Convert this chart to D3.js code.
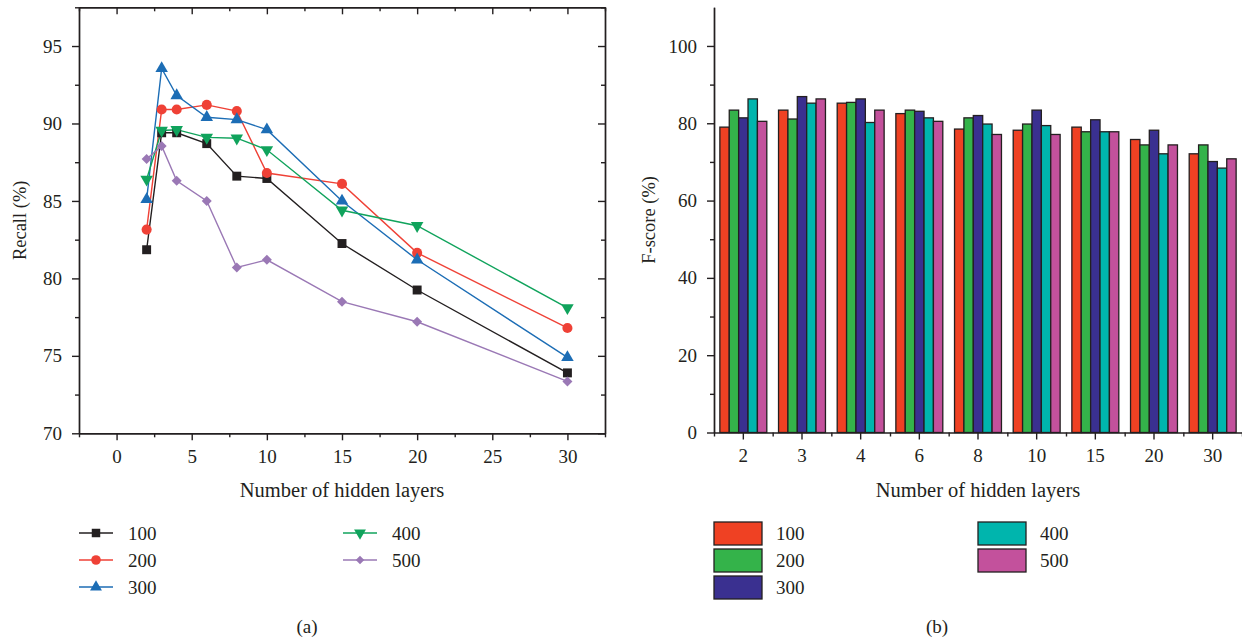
<!DOCTYPE html>
<html>
<head>
<meta charset="utf-8">
<script src="https://cdn.jsdelivr.net/npm/d3@7/dist/d3.min.js"></script>
<style>
  html, body { margin: 0; padding: 0; background: #fff; }
  svg { display: block; }
  text { font-family: "Liberation Serif", "DejaVu Serif", serif; fill: #231f20; }
</style>
</head>
<body>
<svg id="chart" width="1242" height="641"></svg>
<script>
// ---------- DATA ----------
const hiddenLayers = [2, 3, 4, 6, 8, 10, 15, 20, 30];
const seriesNames = ["100", "200", "300", "400", "500"];

// (a) Recall (%)
const recall100 = [81.85, 89.4, 89.4, 88.7, 86.6, 86.45, 82.25, 79.25, 73.9];
const recall200 = [83.15, 90.9, 90.9, 91.2, 90.8, 86.8, 86.1, 81.65, 76.8];
const recall300 = [85.1, 93.55, 91.8, 90.4, 90.25, 89.6, 85.0, 81.2, 74.9];
const recall400 = [86.4, 89.55, 89.6, 89.1, 89.05, 88.3, 84.4, 83.4, 78.1];
const recall500 = [87.7, 88.55, 86.3, 85.0, 80.7, 81.2, 78.5, 77.2, 73.35];

// (b) F-score (%)
const fscore100 = [79.0, 83.4, 85.2, 82.5, 78.5, 78.2, 79.0, 75.8, 72.1];
const fscore200 = [83.4, 81.1, 85.4, 83.4, 81.4, 79.8, 77.8, 74.4, 74.4];
const fscore300 = [81.4, 86.9, 86.3, 83.1, 82.0, 83.4, 80.9, 78.2, 70.1];
const fscore400 = [86.3, 85.2, 80.2, 81.4, 79.8, 79.4, 77.8, 72.1, 68.4];
const fscore500 = [80.5, 86.3, 83.4, 80.5, 77.1, 77.1, 77.8, 74.4, 70.8];

const recallXTicks = [0, 5, 10, 15, 20, 25, 30];
const recallYTicks = [70, 75, 80, 85, 90, 95];
const fscoreYTicks = [0, 20, 40, 60, 80, 100];

// ---------- STYLE ----------
const ink = "#231f20";
const lineColors = ["#231f20", "#ef4136", "#1c6db5", "#10a35c", "#9a78b5"];
const barColors  = ["#ef4123", "#34b34a", "#3a3090", "#00b5ad", "#c3519c"];
const FS = 19;       // tick & legend labels
const FS_X = 20.5;   // x-axis titles
const FS_Y = 18.5;   // y-axis titles

const svg = d3.select("#chart");

// ================= (a) LINE CHART =================
const A = { left: 79, right: 605, top: 7.3, bottom: 433.3 };
const xA = d3.scaleLinear().domain([-2.5, 32.5]).range([A.left, A.right]);
const yA = d3.scaleLinear().domain([70, 97.5]).range([A.bottom, A.top]);

const gA = svg.append("g");

function styleAxis(g, labels) {
  g.select(".domain").attr("stroke", ink).attr("stroke-width", 1.4);
  g.selectAll(".tick line").attr("stroke", ink).attr("stroke-width", 1.4);
  g.selectAll(".tick text").style("font-size", FS + "px").attr("fill", ink)
    .style("font-family", "'Liberation Serif', serif");
  if (!labels) g.selectAll(".tick text").remove();
}

const xMinorA = d3.range(-2.5, 32.6, 2.5).filter(v => !recallXTicks.includes(v));
const yMinorA = d3.range(72.5, 97.6, 5);

// bottom
gA.append("g").attr("transform", `translate(0,${A.bottom})`)
  .call(d3.axisBottom(xA).tickValues(xMinorA).tickSize(4).tickSizeOuter(0).tickFormat(""))
  .call(g => styleAxis(g, false));
gA.append("g").attr("transform", `translate(0,${A.bottom})`)
  .call(d3.axisBottom(xA).tickValues(recallXTicks).tickSize(7).tickSizeOuter(0).tickPadding(9))
  .call(g => styleAxis(g, true));
// top (inward)
gA.append("g").attr("transform", `translate(0,${A.top})`)
  .call(d3.axisTop(xA).tickValues(xMinorA).tickSize(-4).tickSizeOuter(0).tickFormat(""))
  .call(g => styleAxis(g, false));
gA.append("g").attr("transform", `translate(0,${A.top})`)
  .call(d3.axisTop(xA).tickValues(recallXTicks).tickSize(-7).tickSizeOuter(0).tickFormat(""))
  .call(g => styleAxis(g, false));
// left
gA.append("g").attr("transform", `translate(${A.left},0)`)
  .call(d3.axisLeft(yA).tickValues(yMinorA).tickSize(4).tickSizeOuter(0).tickFormat(""))
  .call(g => styleAxis(g, false));
gA.append("g").attr("transform", `translate(${A.left},0)`)
  .call(d3.axisLeft(yA).tickValues(recallYTicks).tickSize(7).tickSizeOuter(0).tickPadding(10))
  .call(g => styleAxis(g, true));
// right (inward)
gA.append("g").attr("transform", `translate(${A.right},0)`)
  .call(d3.axisRight(yA).tickValues(yMinorA).tickSize(-4).tickSizeOuter(0).tickFormat(""))
  .call(g => styleAxis(g, false));
gA.append("g").attr("transform", `translate(${A.right},0)`)
  .call(d3.axisRight(yA).tickValues(recallYTicks).tickSize(-7).tickSizeOuter(0).tickFormat(""))
  .call(g => styleAxis(g, false));

// axis titles
gA.append("text").attr("x", (A.left + A.right) / 2).attr("y", 497)
  .attr("text-anchor", "middle").style("font-size", FS_X + "px").text("Number of hidden layers");
gA.append("text").attr("transform", `translate(26,${(A.top + A.bottom) / 2}) rotate(-90)`)
  .attr("text-anchor", "middle").style("font-size", FS_Y + "px").text("Recall (%)");

const recallSeries = [recall100, recall200, recall300, recall400, recall500];
const markers = [
  { type: d3.symbolSquare, size: 80, rot: 0 },
  { type: d3.symbolCircle, size: 80, rot: 0 },
  { type: d3.symbolTriangle, size: 68, rot: 0 },
  { type: d3.symbolTriangle, size: 68, rot: 180 },
  { type: d3.symbolSquare, size: 50, rot: 45 }
];
const lineGen = d3.line().x((d, i) => xA(hiddenLayers[i])).y(d => yA(d));

recallSeries.forEach((vals, s) => {
  gA.append("path").datum(vals).attr("d", lineGen)
    .attr("fill", "none").attr("stroke", lineColors[s]).attr("stroke-width", 1.4);
});
recallSeries.forEach((vals, s) => {
  const m = markers[s];
  gA.selectAll(null).data(vals).enter().append("path")
    .attr("d", d3.symbol().type(m.type).size(m.size))
    .attr("transform", (d, i) => `translate(${xA(hiddenLayers[i])},${yA(d)}) rotate(${m.rot})`)
    .attr("fill", lineColors[s]);
});

// legend (a)
const legA = [
  { x: 79, y: 533 }, { x: 79, y: 560 }, { x: 79, y: 587 },
  { x: 343, y: 533 }, { x: 343, y: 560 }
];
legA.forEach((p, s) => {
  const g = gA.append("g");
  g.append("line").attr("x1", p.x).attr("x2", p.x + 34).attr("y1", p.y).attr("y2", p.y)
    .attr("stroke", lineColors[s]).attr("stroke-width", 1.4);
  const m = markers[s];
  g.append("path").attr("d", d3.symbol().type(m.type).size(s === 4 ? 36 : m.size * 0.9))
    .attr("transform", `translate(${p.x + 17},${p.y}) rotate(${m.rot})`)
    .attr("fill", lineColors[s]);
  g.append("text").attr("x", p.x + 49).attr("y", p.y).attr("dy", "0.35em")
    .style("font-size", FS + "px").text(seriesNames[s]);
});
gA.append("text").attr("x", 307).attr("y", 626).attr("dy", "0.35em")
  .attr("text-anchor", "middle").style("font-size", FS + "px").text("(a)");

// ================= (b) BAR CHART =================
const B = { left: 714, right: 1242, top: 7.3, bottom: 432.5 };
const x0 = d3.scaleBand().domain(hiddenLayers.map(String)).range([B.left, B.right])
  .paddingInner(0.2).paddingOuter(0.1);
const x1 = d3.scaleBand().domain(seriesNames).range([0, x0.bandwidth()]);
const yB = d3.scaleLinear().domain([0, 110]).range([B.bottom, B.top]);

const gB = svg.append("g");
const fSeries = [fscore100, fscore200, fscore300, fscore400, fscore500];

hiddenLayers.forEach((h, i) => {
  const g = gB.append("g").attr("transform", `translate(${x0(String(h))},0)`);
  g.selectAll("rect").data(fSeries.map((arr, s) => ({ s, v: arr[i] }))).enter().append("rect")
    .attr("x", d => x1(seriesNames[d.s]))
    .attr("width", x1.bandwidth())
    .attr("y", d => yB(d.v))
    .attr("height", d => yB(0) - yB(d.v))
    .attr("fill", d => barColors[d.s])
    .attr("stroke", ink).attr("stroke-width", 1.3);
});

// axes (b)
const yMinorB = d3.range(10, 110, 20);
gB.append("g").attr("transform", `translate(${B.left},0)`)
  .call(d3.axisLeft(yB).tickValues(yMinorB).tickSize(4).tickSizeOuter(0).tickFormat(""))
  .call(g => styleAxis(g, false));
gB.append("g").attr("transform", `translate(${B.left},0)`)
  .call(d3.axisLeft(yB).tickValues(fscoreYTicks).tickSize(7).tickSizeOuter(0).tickPadding(10))
  .call(g => styleAxis(g, true));

const boundaryScale = d3.scaleLinear().domain([0, hiddenLayers.length]).range([B.left, B.right]);
gB.append("g").attr("transform", `translate(0,${B.bottom})`)
  .call(d3.axisBottom(boundaryScale).tickValues(d3.range(0, hiddenLayers.length + 1))
    .tickSize(4).tickSizeOuter(0).tickFormat(""))
  .call(g => styleAxis(g, false));
gB.append("g").attr("transform", `translate(0,${B.bottom})`)
  .call(d3.axisBottom(x0).tickSize(7).tickSizeOuter(0).tickPadding(9))
  .call(g => styleAxis(g, true))
  .call(g => g.select(".domain").remove());

gB.append("text").attr("x", (B.left + B.right) / 2).attr("y", 497)
  .attr("text-anchor", "middle").style("font-size", FS_X + "px").text("Number of hidden layers");
gB.append("text").attr("transform", `translate(655,${(B.top + B.bottom) / 2}) rotate(-90)`)
  .attr("text-anchor", "middle").style("font-size", FS_Y + "px").text("F-score (%)");

// legend (b)
const legB = [
  { x: 714, y: 522 }, { x: 714, y: 549 }, { x: 714, y: 576 },
  { x: 978, y: 522 }, { x: 978, y: 549 }
];
legB.forEach((p, s) => {
  gB.append("rect").attr("x", p.x).attr("y", p.y).attr("width", 48).attr("height", 23)
    .attr("fill", barColors[s]).attr("stroke", ink).attr("stroke-width", 1.3);
  gB.append("text").attr("x", p.x + 62).attr("y", p.y + 11.5).attr("dy", "0.35em")
    .style("font-size", FS + "px").text(seriesNames[s]);
});
gB.append("text").attr("x", 937).attr("y", 626).attr("dy", "0.35em")
  .attr("text-anchor", "middle").style("font-size", FS + "px").text("(b)");
</script>
</body>
</html>
